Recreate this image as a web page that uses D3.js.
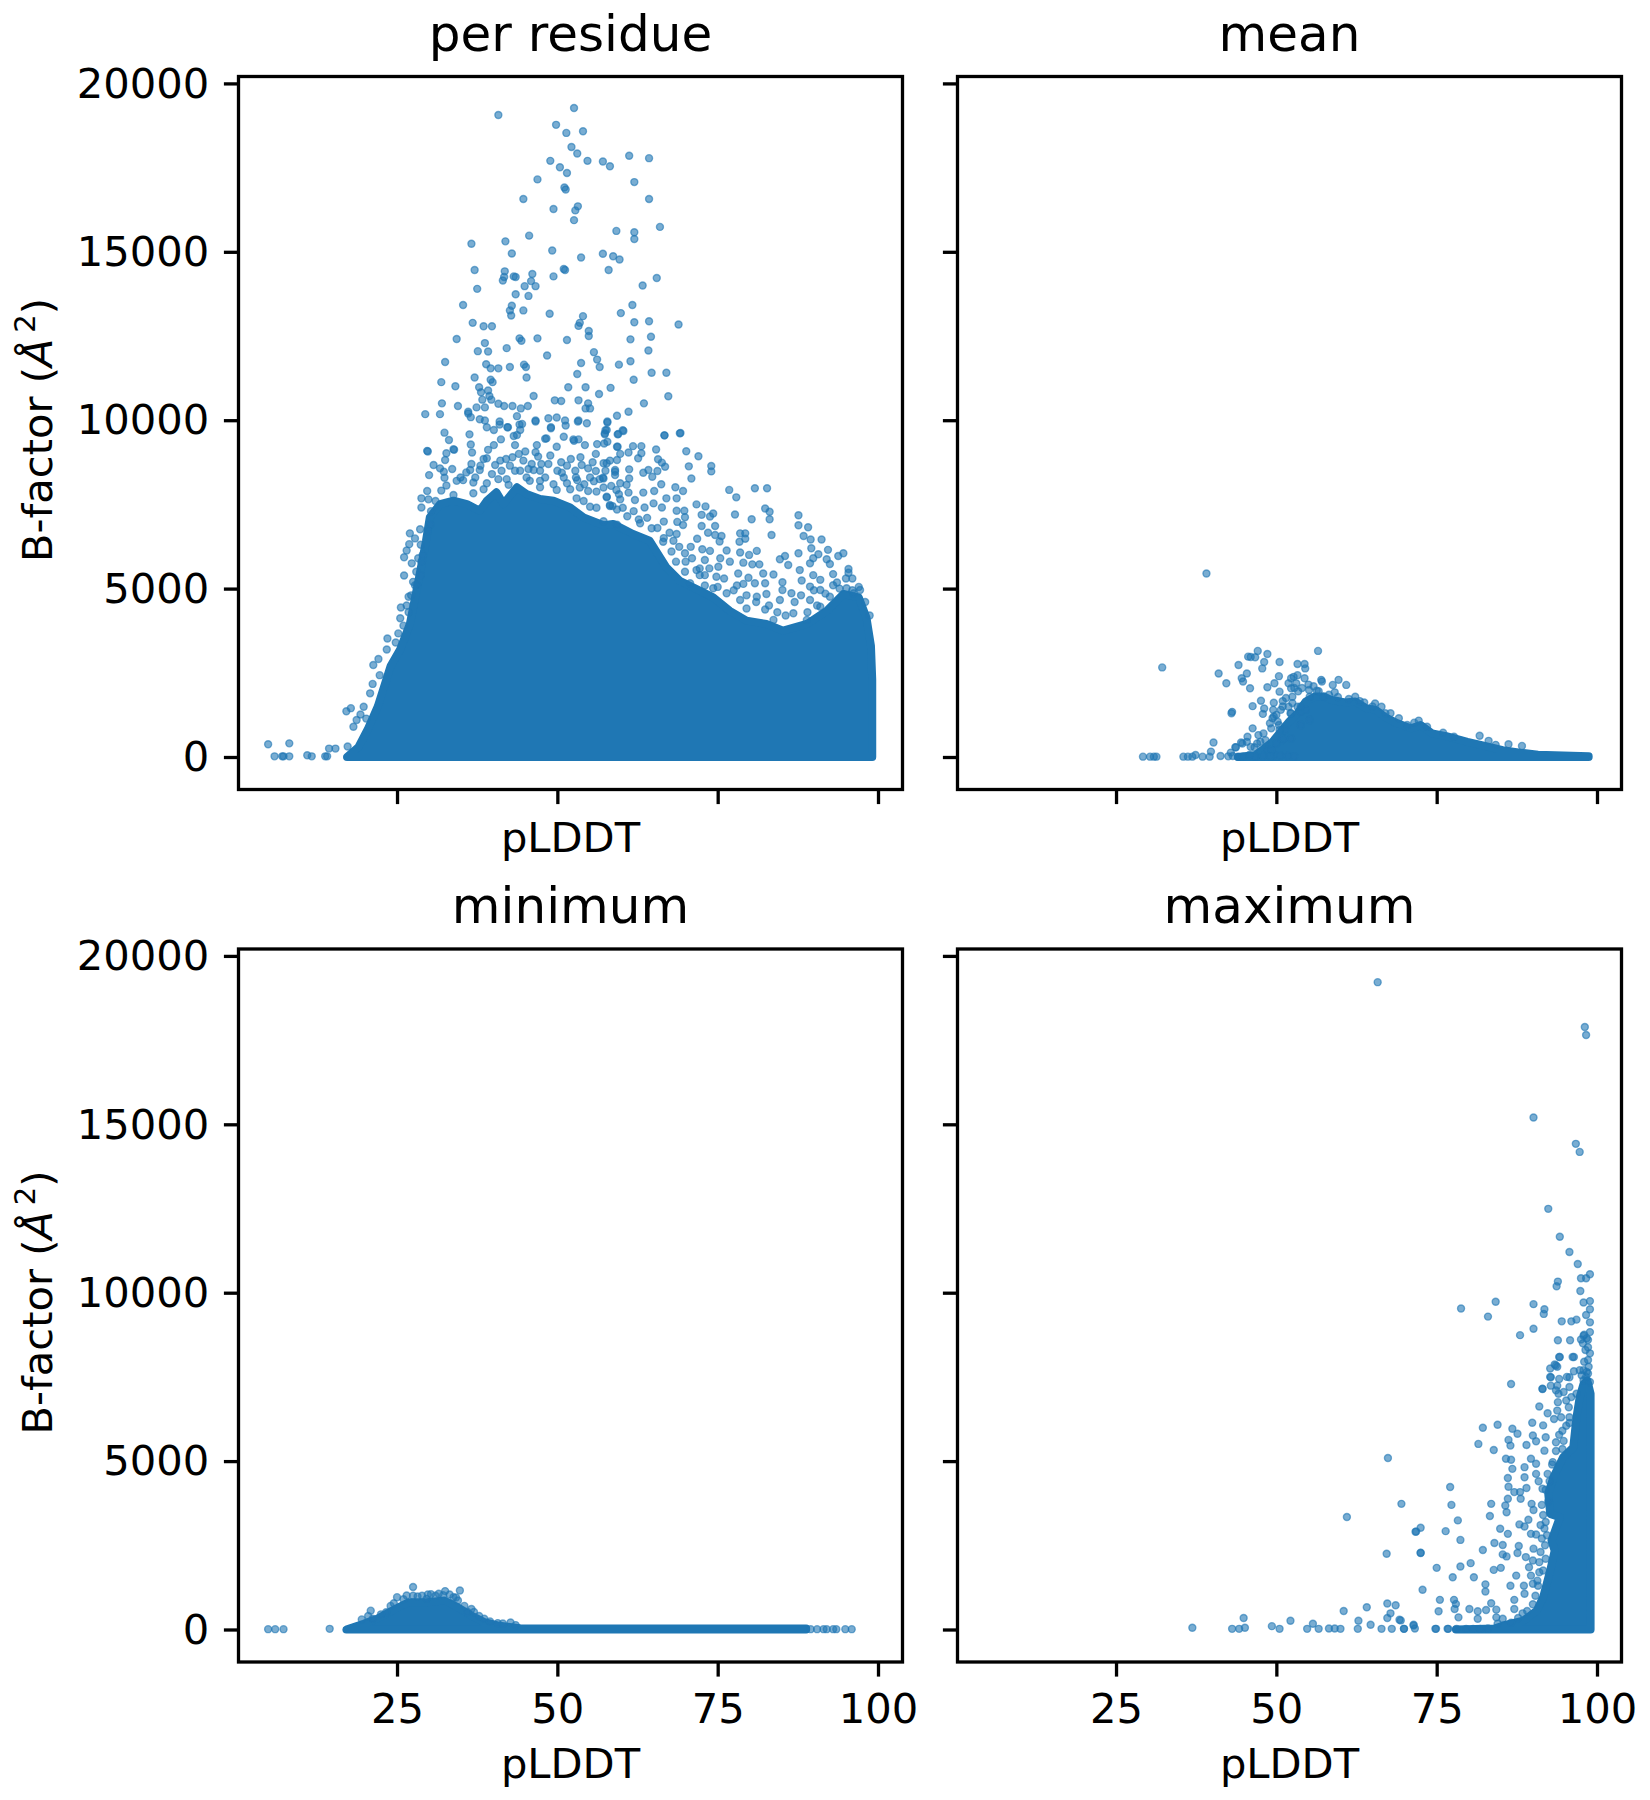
<!DOCTYPE html>
<html>
<head>
<meta charset="utf-8">
<script src="https://cdn.jsdelivr.net/npm/d3@7"></script>
<style>
  body { margin: 0; background: #fff; }
  text { font-family: "DejaVu Sans", sans-serif; fill: #000; }
</style>
</head>
<body>
<div id="chart"></div>
<script>
var xTicks = [25, 50, 75, 100];
var yTicks = [0, 5000, 10000, 15000, 20000];
var xDomain = [0.28, 103.82];
var yDomain = [-965, 20205];

var perResidueDense = [[17.2,0],[19,300],[20.5,850],[22,1500],[24,2700],[25.5,3200],[27,3950],[28.3,5200],[29.5,6400],[30.1,7110],[31.7,7510],[33.8,7610],[35.9,7510],[37.9,7310],[39,7610],[40.5,7860],[41.6,7510],[43.7,8010],[45.2,7810],[47.3,7660],[49.4,7610],[52,7410],[54.1,7110],[57.2,6880],[58.7,6920],[61.8,6620],[64.4,6420],[67,5630],[69.1,5230],[72.2,4940],[74.3,4740],[76.9,4340],[79.5,4050],[82.6,3950],[85.2,3750],[88.9,3950],[92,4340],[94.6,4840],[97,4740],[98.2,4140],[98.9,3300],[99.1,2300],[99.1,0]];
var meanDense = [[44,0],[46.8,60],[49.4,450],[52,1050],[53.3,1300],[54.6,1650],[56,1800],[57.4,1800],[58.5,1700],[60.7,1620],[62.3,1650],[64,1450],[65.5,1400],[67,1180],[68.9,1000],[71,850],[72.5,950],[74.3,700],[76.5,620],[79.8,450],[82,350],[85.3,200],[88,130],[90.8,70],[98.7,20],[98.7,0]];
var minimumDense = [[17.1,0],[18.5,90],[19.8,170],[21.9,320],[24.7,610],[26.8,810],[29.6,810],[32.4,860],[34.5,660],[36.6,410],[38.6,220],[40.7,120],[44.2,40],[60,30],[88.8,30],[88.8,0]];
var maximumDense = [[78,0],[84,30],[85.4,120],[88.5,260],[90.6,560],[91.6,960],[92.7,1750],[93.4,2340],[92.9,2640],[94.2,3330],[92.7,3430],[92.4,4030],[93.2,4520],[94.7,5110],[96.3,5410],[96.8,6300],[97.3,6900],[97.9,7290],[98.5,7390],[99,7000],[99,0]];

// single dots that can still be told apart [pLDDT, B-factor]
var perResiduePoints = [
  [4.9,380],[5.9,20],[7.1,20],[7.3,20],[8.2,20],[8.2,405],[11,50],[11.7,20],[13.8,20],[14.1,20],[14.4,250],[15.4,250],[17.3,310],[17.1,1360],[17.8,1450],[18.2,900],[18.7,1100],[19.8,1490],[20.8,1890],[21.2,2170],[22.3,2430],[21.3,2730],[22.1,2910],[23.4,3190],[19.3,1260],[20.2,1140],
  [40.8,19060],[52.6,19270],[49.8,18770],[51.4,18530],[54,18580],[52.2,18110],[53.1,17920],[54.7,17700],[48.9,17700],[50.4,17510],[51.5,17340],[57.1,17680],[58.2,17540],[61.2,17850],[64.3,17780],[46.9,17150],[51.1,16910],[51.3,16850],[62,17070],[44.7,16570],[64.3,16570],[49.4,16270],[53.2,16350],[52.8,16230],[52.6,15940],[66,15740],[59.2,15620],[62,15580],[62,15380],[45.6,15480],[41.9,15310],[36.6,15240],[49.2,15040],[42.9,14950],[57.1,14940],[58.7,14870],[59.7,14770],[53.7,14830],
  [37.1,14460],[41.8,14420],[41.7,14250],[41.5,14150],[43.2,14270],[43.5,14250],[46.1,14340],[45.9,14130],[46.6,13980],[44.9,13980],[49.4,14270],[51,14490],[51.2,14460],[58,14460],[65.5,14220],[63.3,14000],[37.5,13900],[43.5,13740],[45.5,13690],[35.3,13420],[42.9,13400],[61.7,13420],[42.6,13260],[44.7,13260],[42.8,13110],[48.8,13160],[59.9,13180],[54,13090],[53.5,12890],[53.3,12800],[62,12910],[64.3,12940],[36.8,12890],[38.5,12790],[39.8,12790],[68.9,12840],[54.9,12650],[54.9,12500],[34.3,12410],[44.1,12430],[44.4,12360],[46.9,12430],[51.5,12380],[61.4,12400],[64.6,12480],[38.7,12290],[37.6,12050],[39.2,12040],[42.1,12140],[55.7,12020],[64.2,12070],[48.4,11920],[56.2,11800],[32.5,11730],[38.9,11660],[56.6,11580],[59.6,11650],[61.4,11750],[53.7,11700],[39.6,11540],[40.8,11540],[42.6,11580],[44.8,11650],[45.1,11580],[53.1,11370],[64.7,11410],[67,11410],
  [31.9,11130],[37.1,11270],[45.2,11270],[61.9,11200],[39.6,11200],[39.9,11130],[34.1,11010],[37.8,10980],[51.7,10980],[54.4,10980],[58.3,10960],[39.2,10880],[38.1,10830],[39.4,10720],[56.5,10780],[67.3,10710],[46.3,10720],[32,10500],[34.5,10420],[38.3,10610],[39.7,10610],[40.8,10490],[49.6,10590],[50.6,10570],[53.3,10590],[54.4,10350],[54.8,10500],[63.5,10500],[29.4,10180],[31.7,10180],[36.1,10250],[36.5,10090],[38.7,10380],[41.7,10420],[43,10420],[44.3,10350],[45.4,10420],[55.1,10350],[59.3,10130],[61.1,10250],[46.6,9990],[48.6,10060],[49.9,10080],[53.3,9990],[57.8,9960],[38.7,9990],[39,9790],[41,9870],[42.3,9790],[44.1,9870],[49,9790],[51.3,9840],[69.2,9620],[66.7,9550],[32.4,9630],[33.1,9410],[36.3,9580],[36.5,9280],[43.2,9530],[48.1,9450],[52.6,9390],[57.5,9700],[60.2,9700],[29.8,9070],[33.8,9140],
  [37.4,10380],[36.1,10200],[37.9,10030],[41,9960],[42.2,9790],[43.7,10120],[44.5,9890],[40.1,9710],[46.6,9960],[49,9760],[51.2,9990],[53.2,9960],[54.6,9910],[57.7,9710],[59.4,9580],[57.4,9580],[41.2,9430],[43.7,9560],[44.2,9710],[51,9510],[52.5,9430],[53.3,9430],[48.3,9460],[29.7,9090],[33.9,9120],[32.7,9020],[32.5,8820],[36.7,9040],[40.1,9260],[39.2,9120],[46.8,9260],[49.9,9210],[54.3,9260],[56.2,9290],[57.8,9360],[59.3,9210],[56,9000],[30.7,8670],[33.6,8550],[31.7,8570],[30,8370],[32.3,8470],[32.4,8290],[53.8,8670],[54.8,8570],[56,8490],[57.7,8720],[59.3,8820],[59,8470],[57.1,8290],[34.3,8200],[50.7,8440],[29.7,7900],[32.7,8060],[31.9,7910],[51.5,8130],[53.1,8220],[55.7,8190],[28.8,7680],[29.9,7650],[28.8,7410],[56.1,7880],[57.7,7730],[58.2,7480],[28.6,6760],[27,6640],[27.8,6490],[26.9,6320],[26.5,6130],[26.1,5930],[27.3,5750],[26.1,5390],[28.1,5110],[26.8,4760],[25.6,4440],[25.5,4120],[25.2,3670],[23.5,3520],
  [47,8920],[43.4,9260],[45,9070],[39,8870],[40.3,8670],[36.4,8520],[37.9,8520],[46.3,8520],[47.3,8010],[42.4,8080],[39,8130],[35.3,8220],[33.8,7780],[36.9,7830],[49.9,7930],[53,7680],[55.1,7430],[36.6,8700],[38.5,8850],[41.1,8800],[42.6,8650],[44.2,8500],[45.5,8550],[47.3,8500],[48.6,8700],[51.5,8650],[52.8,8500],[36.9,8150],[38.5,7950],[42.1,8250],[45.7,8200],[47.3,8200],[49.4,8100],[52,7950],[53.5,8000],[54.8,7900],[57.2,8000],[54.1,7600],[56.1,7400],[59.3,7350],[57.2,7000],[59.3,6900],[28.7,6300],[28.3,5900],[28,5500],[27.5,5200],[26.5,4500],[28.8,5800],
  [34.9,8300],[35.8,8450],[37.2,8300],[38,8650],[39.8,8400],[40.8,8250],[41.3,8500],[42,8850],[43,8900],[43.4,8500],[44,9000],[44.7,8800],[45.2,8300],[46,8700],[46.6,9050],[47.5,8700],[48.1,8300],[48.9,8950],[50,8500],[50.6,8750],[51,8300],[52.1,8850],[52.9,8300],[53.6,8900],[54.2,8100],[55.1,8300],[55.5,8750],[56.6,8250],[57.5,8500],[58.4,8050],[59.6,7800],[58.6,7450],[60.2,7400],[60.9,7150],[61.9,7300],[62.7,7050],[64,7100],[65.6,6800],[66.6,6500],[67.8,6100],[70,5800],[71,5900],[72.2,5600],[73,5400],[75,5050],[76,5300],[77.5,4950],[79.5,4800],[81,4600],[83,4500],[84.3,4300],[85.6,4200],[87,4600],[88,4800],[89,4300],[90,4950],[90.5,4500],[91.8,4850],[93,5100],[94,5000],[95,5300],[96,4950],[97,5050],[98,4600],[98.7,4200],[30.3,7300],[31,7600],[30.2,6900],[29.8,6700],[29,6000],[28.7,5400],[27.8,5100],[27.2,4800],[26.8,4300],[26,3900],[24.8,3400],
  [57.8,9930],[57.4,9610],[59.5,9590],[60.3,9680],[66.7,9550],[69.1,9610],[59.4,9210],[61.8,9230],[63.1,9230],[57.3,9310],[65.4,9130],[70.1,9080],[72,8930],[61.1,9040],[59.8,9000],[63.1,9020],[62.6,8870],[65.7,8840],[66.3,8740],[66.8,8620],[58.2,8800],[57.2,8720],[70.5,8630],[74,8640],[74,8480],[61.2,8540],[59,8520],[63.4,8440],[64.2,8520],[65.6,8490],[64.8,8320],[70.9,8270],[59,8370],[57.2,8270],[61.2,8270],[59.8,8130],[66.2,8100],[60.8,8080],[68.4,8010],[69.6,7900],[76.8,7930],[80.8,7980],[82.7,7980],[65.1,7900],[63.4,7850],[61.1,7850],[59.2,7930],[77.9,7710],[68.6,7680],[67,7680],[62.1,7630],[59.8,7650],[57.7,7710],[71.7,7500],[73.1,7440],[82.4,7380],[83.1,7280],[58.2,7450],[63.6,7410],[65,7530],[66.3,7410],[68.6,7310],[69.8,7310],[74.3,7230],[72.5,7190],[73.8,7140],[77.7,7200],[80.3,7060],[83.1,7060],[87.6,7180],[69.9,7120],[66.6,6990],[68.7,6980],[69.6,6890],[72.5,6860],[74.6,6860],[87.6,6880],[89.1,6820],[62.9,6940],[64.7,6790],[67.5,6660],[68.6,6620],[73.5,6660],[74.6,6590],[75.6,6560],[78.5,6640],[79.3,6640],[83.4,6590],[71.8,6480],[79.3,6480],[78.4,6390],[75.3,6400],[88.4,6560],[89.5,6460],[91.2,6460],[66.5,6390],[68.1,6420],[69,6240],[70.8,6240],[72.6,6170],[73.8,6120],[76.4,6130],[78.5,6070],[81.1,6120],[79.9,6000],[87.6,6050],[89.6,6200],[92.2,6150],[94.6,6050],[93.8,5970],[90.7,6020],[89.9,5900],[85.5,5970],[84.7,5870],[69.9,6050],[73,5850],[75.4,5900],[76.9,5800],[79,5770],[80.4,5720],[81.5,5720],[86,5700],[89.4,5750],[92,5870],[92.5,5730],[95.4,5580],[95.4,5470],[96,5300],[75.1,5650],[68.5,5800],[71.7,5550],[73.7,5600],[78.2,5450],[79.8,5320],[82.1,5450],[83.7,5420],[87.8,5550],[89.9,5400],[93,5430],[69.9,5500],[72.2,5400],[74.8,5350],[80.8,5160],[82.4,5160],[85.1,5190],[88.1,5240],[91,5260],[93.6,5180],[70.7,5160],[73,5090],[78,5090],[79,5140],[85.1,4960],[81.1,4760],[82.6,4840],[86.5,4860],[89.4,5060],[91,4960],[95.1,5010],[97.2,4960],[74.3,5010],[76.4,4860],[78.5,4660],[84.7,4660],[89.4,4660],[92.5,4760],[96.2,4860],[79.5,4410],[82.4,4380],[86.8,4270],[91,4460],[83.7,4070],[88.9,4070]
];
var meanPoints = [
  [39.1,5450],[32.2,2660],[41,2480],[42.2,2190],[44.1,2730],[45.4,2480],[45.6,2980],[46,2970],[47.1,3150],[46.7,2960],[48.6,3060],[48.1,2820],[47.8,2630],[44.6,2340],[44.8,2240],[45.9,2040],[50.5,2820],[56.5,3150],[53.3,2760],[54.4,2760],[54.5,2630],[50.4,2400],[48.6,2070],[49.7,2190],[50.5,1940],[51.9,2190],[52.7,2380],[54.4,2340],[57,2290],[57.1,2240],[58.8,2140],[59.7,2290],[60.9,2140],[59.1,1920],[56.3,1970],[55.1,1990],[51,1660],[49.6,1610],[47.6,1670],[46.3,1510],[47.9,1280],[43.1,1340],[43,1300],[49.6,1200],[49.4,1150],[49.2,850],[46.3,850],[40.2,430],[45.5,600],[47.2,650],[45.4,450],[47.5,450],[44.5,430],[43.6,290],[42.9,130],[39.8,160],
  [29.2,10],[30.3,10],[31.3,10],[35.5,10],[36.9,10],[37.4,60],[38.5,10],[39.6,10],[41.3,30],[44,10],[44.8,10],[46.7,10],[49.7,60],[48.6,210],[50.8,500],[51.4,800],[53.8,1340],[53.3,1490],[55.2,1790],[57.4,1790],[62.3,1790],[63.7,1620],[65.4,1590],[66.4,1490],[67.8,1300],[69.1,1150],[72.2,1080],[73.5,900],[81.7,630],[83.1,480],[84.2,360],[86.2,380],[88.3,330],[77.7,600],[76,720],[55.2,1100],[52.2,1300],[52.5,1790],[51.9,1490],[50.4,950],[51.1,550],
  [52.3,2340],[53.3,2430],[53.1,2190],[52.3,2040],[48.1,1440],[50.7,1400],[52.3,1300],[48.3,500],[44.7,400],[43.7,290],[46.6,290],[50.5,800],[52.3,550],[50,400],[49.2,210],[53.8,950],[54.6,1400],[53.8,1500],[30.9,10],[36.2,10],[42.5,20],[43.2,30],[45.8,60],[47.9,30],[49.1,20],[50.6,40],[51.8,30],[52.8,20],
  [47,400],[48,700],[49,1000],[50,1250],[51,1500],[51.5,1750],[52.5,1600],[53.4,1950],[54,2050],[55,2150],[46,300],[49.5,1400],[50.2,1050],[52.8,2050],[55.8,2100],[56.6,1950],[58.2,1850],[59.6,1780],[61.3,1720],[63,1660],[65,1500],[67,1300],[70.4,950],[71.5,1020]
];
var minimumPoints = [
  [4.9,10],[6,10],[7.3,10],[14.5,20],[27.5,1260],[34.8,1160],[32.5,1140],[31.5,1060],[25,960],[26.5,1010],[28.2,980],[29.6,910],[34.5,860],[20.9,560],[23.3,510],[21.2,320],[36.6,610],[38.6,320],[40.7,190],[42.7,210],[33.8,960],[28.9,1000],[30.3,1050],[33.2,1040],[24,700],[36,520],[37.8,400],
  [19.5,300],[20.5,400],[22.5,450],[24.5,780],[26,900],[27.5,1000],[29.8,1040],[31,1000],[32.2,1020],[34.2,950],[35.5,700],[37,520],[39.5,240],[41.5,180],[43.5,130],
  [89.5,10],[90.5,10],[91.5,10],[92,10],[93,10],[93.5,10],[94.9,10],[95.9,10]
];
var maximumPoints = [
  [65.8,19220],[98.1,17890],[98.3,17650],[90.1,15200],[96.7,14420],[97.3,14180],[92.4,12490],[94.2,11660],[95.7,11210],[97,10850],[98.9,10550],[97.5,10430],[98.3,10430],[93.9,10330],[93.7,10190],[97.4,10050],[84.2,9730],[78.8,9530],[83,9290],[90.1,9660],[91.8,9510],[91.7,9370],[88,8740],[90.1,8930],[94.5,9150],[96,9150],[96.8,9200],[98.9,9750],[97.9,9710],[98.9,9510],[98.3,9340],[98.9,9120],[93.9,8590],[95.8,8590],[97.9,8720],[98.9,8830],[97.5,8610],[98.6,8380],[94.2,8090],[96.4,8090],[93.4,7870],[92.7,7750],[93.8,7800],[92.7,7500],[91.5,7140],[86.6,7290],[95.3,7500],[96.4,7670],[93.8,7240],[67.4,5090],[61,3340],[69.5,3730],[72.5,3020],[71.7,2900],[67.2,2250],[72.5,2270],[72.8,1180],[64.1,660],[60.5,550],[67.3,770],[68.6,720],[67.8,480],[67.3,340],[69.2,290],[71.4,140],[44.9,340],[52.2,260],[55.7,170],[49.3,100],[36.9,50],[43.1,20],[44.2,20],[45.1,50],[50.5,20],[54.8,20],[56.6,20],[58.2,30],[59.1,30],[60,20],[62.7,20],[62.8,260],[64.7,140],[66.4,20],[68,20],[69.9,20],[71.6,30],[74.8,20],[76.8,20],[78.1,20],[79.6,20],[80.7,20],[81.8,20],[83,30],[84.5,170],
  [91.5,7150],[92.8,7490],[93.6,7840],[94.1,8090],[96.2,8090],[95.7,7490],[94.1,7440],[92.8,7240],[95.7,7200],[93.6,7100],[93.9,6750],[91,6620],[92.3,6420],[93.3,6250],[89.9,6140],[91.6,6060],[95.7,6130],[84.5,6080],[82.2,5990],[86.8,5960],[87.6,5810],[90,5760],[94.1,5780],[92,5710],[86.2,5630],[90.5,5590],[93.6,5560],[81.5,5510],[89,5480],[86.5,5460],[83.9,5330],[91.8,5310],[94.6,5360],[85.8,5070],[86.6,5040],[89.7,5070],[90.5,4920],[88.7,4820],[86.8,4770],[93.1,4970],[88.7,4520],[90.5,4620],[86.1,4500],[92.3,4620],[90.9,4400],[86.2,4240],[89,4200],[91.5,4180],[87.1,4080],[88,4080],[77.1,4230],[88.1,3880],[86.1,3880],[77.3,3700],[83.5,3730],[89.8,3730],[85.7,3680],[85.9,3480],[90.1,3550],[83.3,3370],[89.3,3260],[87.9,3120],[88.7,3060],[78.3,3240],[84.9,2990],[92,3190],[86.1,2840],[89.7,2840],[90.5,2820],[76.4,2920],[78.7,2660],[84,2570],[85.3,2510],[87.8,2480],[90.1,2400],[82.2,2360],[87.6,2270],[85.3,2230],[85.9,2170],[88.9,2150],[90,2050],[91,2000],[80.3,1970],[78.7,1870],[75,1830],[85,1830],[83.9,1770],[89.4,1850],[91,1700],[77.5,1550],[80.8,1550],[87.4,1600],[89.7,1600],[90.7,1450],[90,1360],[82.6,1340],[82.6,1130],[86.5,1300],[88.6,1300],[88.7,1060],[87.1,880],[77.7,880],[75.5,880],[78,760],[83.5,780],[77.8,610],[80.1,610],[81.4,540],[75.3,540],[84.3,590],[82.7,580],[87.1,610],[78.4,360],[81.4,320],[84.3,360],[85.3,320],[69.4,270],[71.4,120],[69.9,20],[74.9,20],[76.7,20],[72.5,2280],[71.8,2910],
  [96.8,7000],[97.9,7400],[98.6,7600],[98.9,7350],[98,8750],[98.4,8650],[98.6,8600],[98.2,8300],[97.8,8500],[98.9,8200],[98.6,8000],[98,7950],[97.9,7700],[98.4,7650],[97.3,7700],[98.7,7800],[97.6,7550],[98.3,7500],
  [94,7000],[94.8,7050],[95.2,6800],[95.6,6600],[96,6900],[95.7,6300],[95.2,6050],[94.6,5900],[94.8,5600],[93.6,5300],[93,4900],[92.6,4400],[92,4150],[91.4,3700],[91.6,3400],[91.8,3000],[91.4,2700],[91.9,2500],[92,2100],[91.6,1750],[90.8,1300],[90.4,1000],[90,750],[89.1,550],[88.4,480],[87.7,340],[86.6,200],[92.4,3800],[91.2,3100],[92.2,2800],[91.2,2300],[93.8,6500],[94.4,6300]
];

var panels = [
  { title: "per residue", left: 238.5, top: 76.5, dense: perResidueDense, points: perResiduePoints, showX: false, showY: true },
  { title: "mean", left: 957.5, top: 76.5, dense: meanDense, points: meanPoints, showX: false, showY: false },
  { title: "minimum", left: 238.5, top: 949, dense: minimumDense, points: minimumPoints, showX: true, showY: true },
  { title: "maximum", left: 957.5, top: 949, dense: maximumDense, points: maximumPoints, showX: true, showY: false }
];

var svgWidth = 1650;
var svgHeight = 1800;
var width = 664;
var height = 713;
var blue = "#1f77b4";

var svg = d3.select("#chart")
  .append("svg")
  .attr("width", svgWidth)
  .attr("height", svgHeight)
  .style("display", "block");

var xScale = d3.scaleLinear().domain(xDomain).range([0, width]);
var yScale = d3.scaleLinear().domain(yDomain).range([height, 0]);

panels.forEach(function(p) {
  var g = svg.append("g")
    .attr("transform", `translate(${p.left}, ${p.top})`);

  // solid part, the stroke stands in for the dot radius along the edge
  var area = d3.area()
    .x(d => xScale(d[0]))
    .y0(yScale(0))
    .y1(d => yScale(d[1]));

  g.append("path")
    .attr("d", area(p.dense))
    .attr("fill", blue)
    .attr("stroke", blue)
    .attr("stroke-width", 8)
    .attr("stroke-linejoin", "round");

  g.selectAll("circle")
    .data(p.points)
    .enter()
    .append("circle")
    .attr("cx", d => xScale(d[0]))
    .attr("cy", d => yScale(d[1]))
    .attr("r", 3.5)
    .attr("fill", blue)
    .attr("fill-opacity", 0.6)
    .attr("stroke", blue)
    .attr("stroke-opacity", 0.6)
    .attr("stroke-width", 1.4);

  // Axes
  var bottomAxis = d3.axisBottom(xScale)
    .tickValues(xTicks)
    .tickSize(14.6)
    .tickPadding(14.6)
    .tickFormat(p.showX ? d3.format("d") : "");
  var leftAxis = d3.axisLeft(yScale)
    .tickValues(yTicks)
    .tickSize(14.6)
    .tickPadding(14.6)
    .tickFormat(p.showY ? d3.format("d") : "");

  var gx = g.append("g")
    .attr("transform", `translate(0, ${height})`)
    .call(bottomAxis);
  var gy = g.append("g").call(leftAxis);

  [gx, gy].forEach(function(a) {
    a.select(".domain").remove();
    a.selectAll("line").attr("stroke", "#000").attr("stroke-width", 3.3);
    a.selectAll("text")
      .attr("font-size", 41.67)
      .style("font-family", '"DejaVu Sans", sans-serif');
  });
  gy.selectAll("text").attr("dy", "0.33em");
  gx.selectAll("text").attr("dy", "0.76em");

  // frame
  g.append("rect")
    .attr("width", width)
    .attr("height", height)
    .attr("fill", "none")
    .attr("stroke", "#000")
    .attr("stroke-width", 3.3);

  g.append("text")
    .attr("x", width / 2)
    .attr("y", -26)
    .attr("text-anchor", "middle")
    .attr("font-size", 50)
    .text(p.title);

  g.append("text")
    .attr("x", width / 2)
    .attr("y", p.showX ? 829 : 775)
    .attr("text-anchor", "middle")
    .attr("font-size", 41.67)
    .text("pLDDT");

  if (p.showY) {
    var ylabel = g.append("text")
      .attr("transform", `translate(${52 - p.left}, ${height / 2 - 3}) rotate(-90)`)
      .attr("text-anchor", "middle")
      .attr("font-size", 41.67);
    ylabel.append("tspan").text("B-factor (");
    ylabel.append("tspan").attr("font-style", "italic").text("\u00c5");
    ylabel.append("tspan").attr("font-size", 29).attr("dy", "-0.6em").text("\u20092");
    ylabel.append("tspan").attr("dy", "0.42em").text(")");
  }
});
</script>
</body>
</html>
